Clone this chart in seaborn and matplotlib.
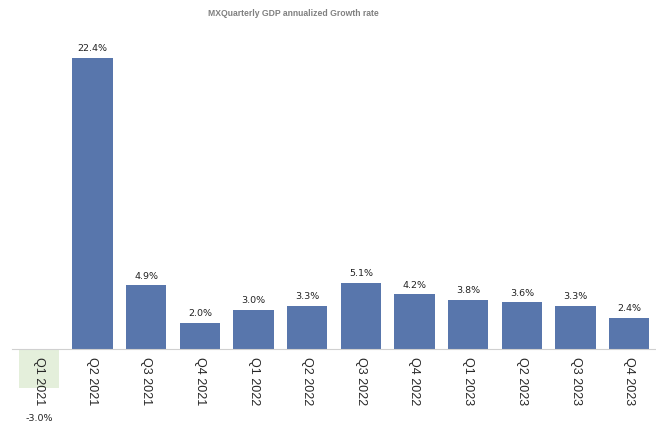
import seaborn as sns
import matplotlib.pyplot as plt
import pandas as pd

quarters = ['Q1 2021', 'Q2 2021', 'Q3 2021', 'Q4 2021',
            'Q1 2022', 'Q2 2022', 'Q3 2022', 'Q4 2022',
            'Q1 2023', 'Q2 2023', 'Q3 2023', 'Q4 2023']
growth = [-3.0, 22.4, 4.9, 2.0, 3.0, 3.3, 5.1, 4.2, 3.8, 3.6, 3.3, 2.4]

df = pd.DataFrame({'quarter': quarters, 'growth': growth})
df['sign'] = ['neg' if v < 0 else 'pos' for v in growth]

sns.set_style('white')

fig = plt.figure(figsize=(6.56, 4.28), dpi=100)
ax = fig.add_axes([12/656, 0, 644/656, 408/428])

sns.barplot(data=df, x='quarter', y='growth', hue='sign',
            palette={'pos': '#5876ac', 'neg': '#e4efdb'},
            width=0.75, legend=False, ax=ax, saturation=1, linewidth=0)

ax.set_xlim(-0.5, 11.5)
ax.set_ylim(-6.08, 25.3)

for i, v in enumerate(growth):
    if v >= 0:
        ax.text(i, v + 0.35, f'{v:.1f}%', ha='center', va='bottom', fontsize=6.8, color='#222222')
    else:
        ax.text(i, v - 2.35, f'{v:.1f}%', ha='center', va='center', fontsize=6.8, color='#222222')

for s in ['top', 'right', 'left']:
    ax.spines[s].set_visible(False)
ax.spines['bottom'].set_position(('data', 0))
ax.spines['bottom'].set_color('#d0d0d0')
ax.set_yticks([])
ax.tick_params(axis='x', length=0, pad=6, labelsize=9, labelrotation=270)
ax.xaxis.set_zorder(5)
for lab in ax.get_xticklabels():
    lab.set_family(['Liberation Sans', 'DejaVu Sans'])
ax.set_xlabel('')
ax.set_ylabel('')

fig.text(293/656, 1 - 14/428, 'MXQuarterly GDP annualized Growth rate',
         ha='center', va='center', fontsize=6.2, fontweight='bold', color='#808080',
         family=['Liberation Sans', 'DejaVu Sans'])

fig.savefig('out.png', dpi=100)
